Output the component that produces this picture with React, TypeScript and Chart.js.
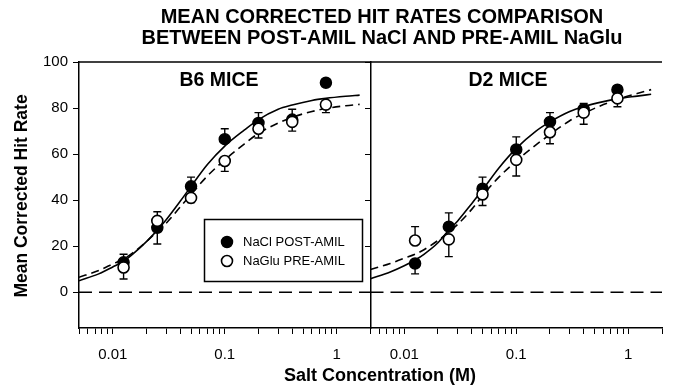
import React, { useEffect, useRef } from "react";
import { Chart, registerables } from "chart.js";

Chart.register(...registerables);

const FONT = '"Liberation Sans", Arial, Helvetica, sans-serif';

// ---- data ----
const concentrations = [0.0125, 0.025, 0.05, 0.1, 0.2, 0.4, 0.8];

const b6NaCl = [13, 28, 46, 66.5, 73.5, 75, 91];
const b6NaClErr = [3.5, 7, 4, 4.5, 4.5, 4.5, 1.5];
const b6NaGlu = [10.8, 31, 41, 57, 71, 74, 81.5];
const b6NaGluErr = [5, 4, 2, 4.5, 4, 4, 3.5];

const d2NaCl = [12.5, 28.5, 45, 62, 74, 79.5, 88];
const d2NaClErr = [4.5, 6, 5, 5.5, 4, 2.5, 1.5];
const d2NaGlu = [22.5, 23, 42.5, 57.5, 69.5, 78, 84.2];
const d2NaGluErr = [6, 7.5, 4.8, 7, 5, 5, 3.6];

const fitConc = [0.005, 0.0075, 0.01, 0.0125, 0.015, 0.02, 0.025, 0.03, 0.04, 0.05, 0.07, 0.1, 0.15, 0.2, 0.3, 0.4, 0.6, 0.8, 1.2, 1.6];
const b6NaClFit = [5, 8, 11, 13.5, 16.5, 22, 27, 31.5, 39.5, 46, 55.5, 63.5, 70.5, 75, 79.5, 81.3, 83.3, 84.2, 85.1, 85.6];
const b6NaGluFit = [6.5, 9.5, 12.3, 14.5, 17, 22, 26.5, 30, 37, 42.5, 50.5, 57.5, 64.5, 69, 73.5, 76, 78.5, 79.8, 81, 81.6];
const d2NaClFit = [5.9, 8.8, 11.5, 14, 16.5, 21.5, 27, 31, 38.5, 44.5, 54, 62.5, 70, 74, 78.5, 80.6, 82.8, 84, 85.2, 86];
const d2NaGluFit = [9.9, 12.5, 14.8, 16.5, 18.5, 22.5, 26.2, 29.5, 36, 42, 50, 57, 64, 68.5, 74.5, 77.7, 81.5, 83.8, 86.3, 88];

const zeroLineX = [0.005, 2];
const zeroLineY = [0, 0];

const xMin = 0.005;
const xMax = 2;
const yMin = -15.5;
const yMax = 100;

const xTickValues = [
  0.005, 0.006, 0.007, 0.008, 0.009,
  0.01, 0.02, 0.03, 0.04, 0.05, 0.06, 0.07, 0.08, 0.09,
  0.1, 0.2, 0.3, 0.4, 0.5, 0.6, 0.7, 0.8, 0.9,
  1, 2,
];
const xLabeledTicks = [0.01, 0.1, 1];
const yTickValues = [0, 20, 40, 60, 80, 100];

const titleLines = ["MEAN CORRECTED HIT RATES COMPARISON", "BETWEEN POST-AMIL NaCl AND PRE-AMIL NaGlu"];
const panelLabels = ["B6 MICE", "D2 MICE"];
const legendLabels = ["NaCl POST-AMIL", "NaGlu PRE-AMIL"];
const yTitle = "Mean Corrected Hit Rate";
const xTitle = "Salt Concentration (M)";

const pts = (xs: number[], ys: number[]) => xs.map((x, i) => ({ x, y: ys[i] }));
const upDir = (own: number[], other: number[]) => own.map((v, i) => v >= other[i]);

const errorBarPlugin = {
  id: "errorBars",
  beforeDatasetDraw(chart: any, args: any) {
    const ds: any = chart.data.datasets[args.index];
    if (!ds.errorBars) return;
    const xs = chart.scales[ds.xAxisID];
    const ys = chart.scales.y;
    const ctx = chart.ctx;
    ctx.save();
    ctx.strokeStyle = "#000";
    ctx.lineWidth = 1.4;
    ds.data.forEach((p: any, i: number) => {
      const e = ds.errorBars[i];
      const up = ds.errorUp[i];
      const x = xs.getPixelForValue(p.x);
      const y0 = ys.getPixelForValue(p.y);
      const y1 = ys.getPixelForValue(up ? p.y + e : p.y - e);
      ctx.beginPath();
      ctx.moveTo(x, y0);
      ctx.lineTo(x, y1);
      ctx.moveTo(x - 4, y1);
      ctx.lineTo(x + 4, y1);
      ctx.stroke();
    });
    ctx.restore();
  },
};

const decorPlugin = {
  id: "decor",
  afterDraw(chart: any) {
    const ctx = chart.ctx;
    const ca = chart.chartArea;
    ctx.save();
    // top frame line
    ctx.strokeStyle = "#000";
    ctx.lineWidth = 1.5;
    ctx.beginPath();
    ctx.moveTo(ca.left, ca.top);
    ctx.lineTo(ca.right, ca.top);
    ctx.stroke();

    ctx.fillStyle = "#000";
    ctx.textAlign = "center";
    ctx.textBaseline = "middle";
    // title
    ctx.font = `bold 20px ${FONT}`;
    ctx.fillText(titleLines[0], 382, 17);
    ctx.fillText(titleLines[1], 382, 38);
    // panel labels
    ctx.font = `bold 19.5px ${FONT}`;
    ctx.fillText(panelLabels[0], 219, 81);
    ctx.fillText(panelLabels[1], 508, 81);
    // x title
    ctx.font = `bold 18px ${FONT}`;
    ctx.fillText(xTitle, 380, 376);
    // y title
    ctx.save();
    ctx.translate(22, 196);
    ctx.rotate(-Math.PI / 2);
    ctx.font = `bold 17.5px ${FONT}`;
    ctx.fillText(yTitle, 0, 0);
    ctx.restore();

    // legend
    const lx = 204.5, ly = 219.5, lw = 158, lh = 62;
    ctx.lineWidth = 1.5;
    ctx.fillStyle = "#fff";
    ctx.fillRect(lx, ly, lw, lh);
    ctx.strokeRect(lx, ly, lw, lh);
    const dsNaCl: any = chart.data.datasets[1];
    const dsNaGlu: any = chart.data.datasets[0];
    const items = [
      { ds: dsNaCl, label: legendLabels[0], y: 242 },
      { ds: dsNaGlu, label: legendLabels[1], y: 261 },
    ];
    items.forEach((it) => {
      ctx.beginPath();
      ctx.arc(227, it.y, it.ds.pointRadius, 0, Math.PI * 2);
      ctx.fillStyle = it.ds.pointBackgroundColor;
      ctx.fill();
      ctx.lineWidth = it.ds.pointBorderWidth;
      ctx.strokeStyle = it.ds.pointBorderColor;
      ctx.stroke();
      ctx.fillStyle = "#000";
      ctx.textAlign = "left";
      ctx.font = `13px ${FONT}`;
      ctx.fillText(it.label, 243, it.y + 0.5);
    });
    ctx.restore();
  },
};

const filledStyle = {
  pointRadius: 5.5,
  pointBackgroundColor: "#000",
  pointBorderColor: "#000",
  pointBorderWidth: 1.5,
  showLine: false,
  borderColor: "#000",
  backgroundColor: "#000",
};
const openStyle = {
  pointRadius: 5.5,
  pointBackgroundColor: "#fff",
  pointBorderColor: "#000",
  pointBorderWidth: 1.6,
  showLine: false,
  borderColor: "#000",
  backgroundColor: "#fff",
};
const solidCurve = {
  borderColor: "#000",
  borderWidth: 1.6,
  pointRadius: 0,
  cubicInterpolationMode: "monotone",
  fill: false,
};
const dashedCurve = { ...solidCurve, borderDash: [8, 5] };
const zeroLine = { borderColor: "#000", borderWidth: 1.4, pointRadius: 0, borderDash: [13, 7], fill: false };

function xScale(stackId: string) {
  return {
    type: "logarithmic",
    position: "bottom",
    stack: stackId,
    stackWeight: 1,
    min: xMin,
    max: xMax,
    afterBuildTicks: (s: any) => {
      s.ticks = xTickValues.map((v) => ({ value: v }));
    },
    afterFit: (s: any) => {
      s.height = 61;
    },
    grid: { display: true, drawOnChartArea: false, drawTicks: true, tickLength: 6, color: "#000", lineWidth: 1 },
    border: { display: true, color: "#000", width: 1.5 },
    ticks: {
      autoSkip: false,
      maxRotation: 0,
      minRotation: 0,
      padding: 12,
      color: "#000",
      font: { size: 15, family: FONT },
      callback: (v: any) => (xLabeledTicks.includes(v) ? String(v) : ""),
    },
  };
}

export default function App() {
  const ref = useRef<HTMLCanvasElement | null>(null);
  useEffect(() => {
    if (!ref.current) return;
    Chart.defaults.font.family = FONT;
    const chart = new Chart(ref.current, {
      type: "line",
      data: {
        datasets: [
          { label: legendLabels[1], data: pts(concentrations, b6NaGlu), xAxisID: "x1", yAxisID: "y", order: 0, errorBars: b6NaGluErr, errorUp: upDir(b6NaGlu, b6NaCl), ...openStyle } as any,
          { label: legendLabels[0], data: pts(concentrations, b6NaCl), xAxisID: "x1", yAxisID: "y", order: 1, errorBars: b6NaClErr, errorUp: upDir(b6NaCl, b6NaGlu), ...filledStyle } as any,
          { label: legendLabels[1], data: pts(concentrations, d2NaGlu), xAxisID: "x2", yAxisID: "y", order: 0, errorBars: d2NaGluErr, errorUp: upDir(d2NaGlu, d2NaCl), ...openStyle } as any,
          { label: legendLabels[0], data: pts(concentrations, d2NaCl), xAxisID: "x2", yAxisID: "y", order: 1, errorBars: d2NaClErr, errorUp: upDir(d2NaCl, d2NaGlu), ...filledStyle } as any,
          { label: "B6 NaCl fit", data: pts(fitConc, b6NaClFit), xAxisID: "x1", yAxisID: "y", order: 2, ...solidCurve } as any,
          { label: "B6 NaGlu fit", data: pts(fitConc, b6NaGluFit), xAxisID: "x1", yAxisID: "y", order: 2, ...dashedCurve } as any,
          { label: "D2 NaCl fit", data: pts(fitConc, d2NaClFit), xAxisID: "x2", yAxisID: "y", order: 2, ...solidCurve } as any,
          { label: "D2 NaGlu fit", data: pts(fitConc, d2NaGluFit), xAxisID: "x2", yAxisID: "y", order: 2, ...dashedCurve } as any,
          { label: "zero B6", data: pts(zeroLineX, zeroLineY), xAxisID: "x1", yAxisID: "y", order: 3, ...zeroLine } as any,
          { label: "zero D2", data: pts(zeroLineX, zeroLineY), xAxisID: "x2", yAxisID: "y", order: 3, ...zeroLine } as any,
        ],
      },
      options: {
        responsive: false,
        animation: false,
        devicePixelRatio: 1,
        layout: { padding: { top: 62, right: 1, left: 0, bottom: 0 } },
        plugins: { legend: { display: false }, title: { display: false }, tooltip: { enabled: false } },
        events: [],
        scales: {
          x1: xScale("xs") as any,
          x2: xScale("xs") as any,
          y: {
            type: "linear",
            position: "left",
            min: yMin,
            max: yMax,
            afterBuildTicks: (s: any) => {
              s.ticks = yTickValues.map((v) => ({ value: v }));
            },
            afterFit: (s: any) => {
              s.width = 79;
            },
            grid: { display: true, drawOnChartArea: false, drawTicks: true, tickLength: 6, color: "#000", lineWidth: 1 },
            border: { display: true, color: "#000", width: 1.5 },
            ticks: { padding: 5, color: "#000", font: { size: 15, family: FONT } },
          },
          y2: {
            type: "linear",
            axis: "y",
            position: { x2: xMin },
            min: yMin,
            max: yMax,
            afterBuildTicks: (s: any) => {
              s.ticks = yTickValues.map((v) => ({ value: v }));
            },
            grid: { display: true, drawOnChartArea: false, drawTicks: true, tickLength: 5, color: "#000", lineWidth: 1 },
            border: { display: true, color: "#000", width: 1.5 },
            ticks: { display: false },
          },
        } as any,
      },
      plugins: [errorBarPlugin, decorPlugin],
    } as any);
    return () => chart.destroy();
  }, []);
  return (
    <div style={{ position: "fixed", left: 0, top: 0, width: 674, height: 389, background: "#fff" }}>
      <canvas ref={ref} width={674} height={389} style={{ display: "block" }} />
    </div>
  );
}
